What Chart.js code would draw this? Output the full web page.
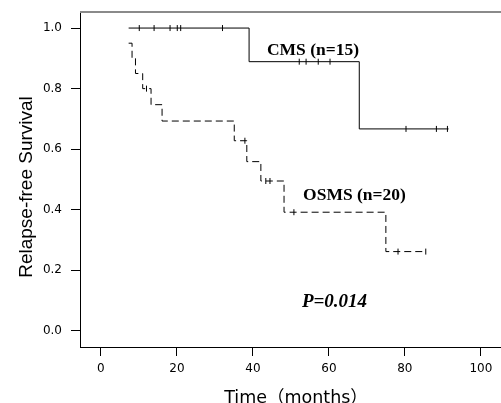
<!DOCTYPE html>
<html>
<head>
<meta charset="utf-8">
<script src="https://cdn.jsdelivr.net/npm/chart.js@4.4.1/dist/chart.umd.min.js"></script>
<style>
  html, body { margin: 0; padding: 0; background: #ffffff; overflow: hidden; }
  #wrap { width: 501px; height: 403px; position: relative; }
</style>
</head>
<body>
<div id="wrap"><canvas id="c" width="501" height="403"></canvas></div>
<script>
// ---- Data ----
const xTicks = [0, 20, 40, 60, 80, 100];
const yTicks = [0.0, 0.2, 0.4, 0.6, 0.8, 1.0];

// CMS (n=15): step curve (time of step, survival after step)
const cmsTimes = [7.3, 39.0, 68.0, 91.5];
const cmsSurv  = [1.0, 0.889, 0.667, 0.667];
const cmsCensorTimes = [10.1, 14.0, 18.2, 20.1, 21.0, 32.0, 52.2, 54.0, 57.2, 60.3, 80.3, 88.3, 91.2];
const cmsCensorSurv  = [1.0, 1.0, 1.0, 1.0, 1.0, 1.0, 0.889, 0.889, 0.889, 0.889, 0.667, 0.667, 0.667];

// OSMS (n=20)
const osmsTimes = [7.3, 8.2, 9.1, 11.0, 13.2, 16.1, 35.1, 38.4, 42.1, 48.2, 75.0, 85.5];
const osmsSurv  = [0.95, 0.90, 0.85, 0.80, 0.747, 0.693, 0.628, 0.559, 0.495, 0.392, 0.262, 0.262];
const osmsCensorTimes = [12.0, 37.9, 43.4, 44.5, 50.8, 78.2, 85.5];
const osmsCensorSurv  = [0.80, 0.628, 0.495, 0.495, 0.392, 0.262, 0.262];

// Text annotations, anchored in data coordinates
const labels = [
  { text: 'CMS (n=15)',  x: 43.7, y: 0.912, font: 'bold 17.5px "Liberation Serif", "Times New Roman", serif' },
  { text: 'OSMS (n=20)', x: 53.2, y: 0.432, font: 'bold 17.5px "Liberation Serif", "Times New Roman", serif' },
  { text: 'P=0.014',     x: 52.9, y: 0.079, font: 'italic bold 19px "Liberation Serif", "Times New Roman", serif' }
];
const xTitle = 'Time（months）';
const yTitle = 'Relapse-free Survival';

const toPts = (xs, ys) => xs.map((x, i) => ({ x: x, y: ys[i] }));

const annotPlugin = {
  id: 'annot',
  afterDraw(chart) {
    const { ctx, chartArea, scales } = chart;
    ctx.save();
    // gray top frame line
    ctx.strokeStyle = '#8a8a8a';
    ctx.lineWidth = 2;
    ctx.beginPath();
    ctx.moveTo(chartArea.left, chartArea.top);
    ctx.lineTo(chartArea.right, chartArea.top);
    ctx.stroke();
    // text labels
    ctx.fillStyle = '#000';
    ctx.textAlign = 'left';
    ctx.textBaseline = 'alphabetic';
    labels.forEach(l => {
      ctx.font = l.font;
      ctx.fillText(l.text, scales.x.getPixelForValue(l.x), scales.y.getPixelForValue(l.y));
    });
    // axis titles
    ctx.textAlign = 'center';
    ctx.font = '17.5px "DejaVu Sans", "Noto Sans CJK SC", sans-serif';
    ctx.fillText(xTitle, 296, 403);
    ctx.font = '19px "Liberation Sans", sans-serif';
    ctx.save();
    ctx.translate(31.5, 187);
    ctx.rotate(-Math.PI / 2);
    ctx.fillText(yTitle, 0, 0);
    ctx.restore();
    ctx.restore();
  }
};

new Chart(document.getElementById('c'), {
  type: 'line',
  data: {
    datasets: [
      {
        label: 'CMS',
        data: toPts(cmsTimes, cmsSurv),
        stepped: true,
        borderColor: '#000',
        borderWidth: 1,
        pointRadius: 0,
        pointHoverRadius: 0,
        fill: false
      },
      {
        label: 'OSMS',
        data: toPts(osmsTimes, osmsSurv),
        stepped: true,
        borderColor: '#000',
        borderWidth: 1,
        borderDash: [7, 4],
        pointRadius: 0,
        pointHoverRadius: 0,
        fill: false
      },
      {
        label: 'CMS censored',
        data: toPts(cmsCensorTimes, cmsCensorSurv),
        showLine: false,
        pointStyle: 'line',
        rotation: 90,
        pointRadius: 3,
        pointHoverRadius: 3,
        borderColor: '#000',
        borderWidth: 1
      },
      {
        label: 'OSMS censored',
        data: toPts(osmsCensorTimes, osmsCensorSurv),
        showLine: false,
        pointStyle: 'line',
        rotation: 90,
        pointRadius: 3,
        pointHoverRadius: 3,
        borderColor: '#000',
        borderWidth: 1
      }
    ]
  },
  options: {
    responsive: false,
    animation: false,
    events: [],
    layout: { autoPadding: false, padding: { top: 12, left: 0, right: 0, bottom: 0 } },
    plugins: { legend: { display: false }, tooltip: { enabled: false } },
    scales: {
      x: {
        type: 'linear',
        min: -5.5,
        max: 105.3,
        afterBuildTicks: s => { s.ticks = xTicks.map(v => ({ value: v })); },
        afterFit: s => { s.height = 56; s.paddingLeft = 0; s.paddingRight = 0; },
        grid: { drawOnChartArea: false, drawTicks: true, tickLength: 9, color: '#000', lineWidth: 1 },
        border: { display: true, color: '#000', width: 1 },
        ticks: {
          padding: 6,
          color: '#000',
          font: { family: '"DejaVu Sans", sans-serif', size: 12 },
          maxRotation: 0,
          callback: v => String(v)
        },
        title: { display: false }
      },
      y: {
        type: 'linear',
        min: -0.053,
        max: 1.053,
        afterBuildTicks: s => { s.ticks = yTicks.map(v => ({ value: v })); },
        afterFit: s => { s.width = 80; s.paddingTop = 0; s.paddingBottom = 0; },
        grid: { drawOnChartArea: false, drawTicks: true, tickLength: 9, color: '#000', lineWidth: 1 },
        border: { display: true, color: '#000', width: 1 },
        ticks: {
          padding: 9,
          color: '#000',
          font: { family: '"DejaVu Sans", sans-serif', size: 12 },
          callback: v => Number(v).toFixed(1)
        },
        title: { display: false }
      }
    }
  },
  plugins: [annotPlugin]
});
</script>
</body>
</html>
